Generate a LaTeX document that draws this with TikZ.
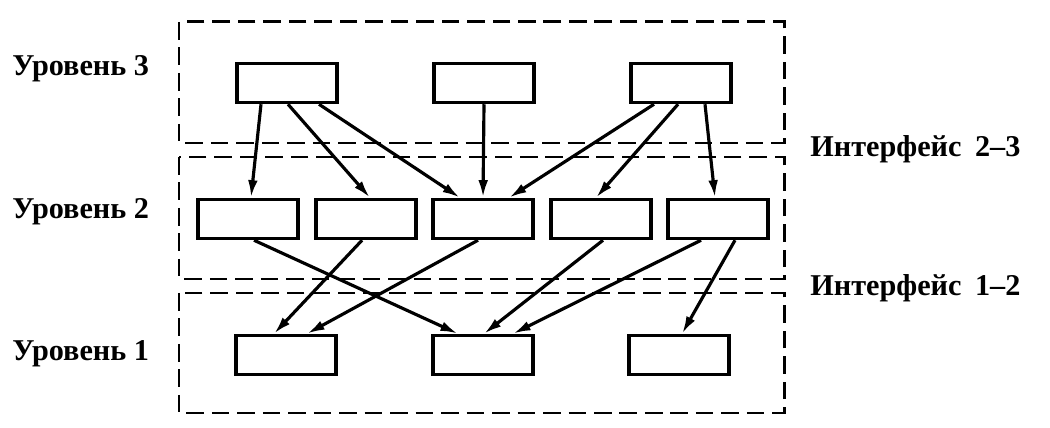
\documentclass[tikz,border=0pt]{standalone}
\usepackage{fontspec}
\setmainfont{Liberation Serif}
\usetikzlibrary{shapes,arrows.meta,calc}

\begin{document}
\begin{tikzpicture}[x=0.02cm,y=-0.02cm,
					block/.style={draw, line width=2pt, minimum width=2.0cm, minimum height=0.78cm, inner sep=0pt},
					layer/.style={draw, line width=1.7pt, dash pattern=on 10pt off 4.5pt},
					label/.style={anchor=base west, inner sep=0pt, font=\bfseries\fontsize{17.2}{20}\selectfont},
					link/.style={line width=1.8pt,-{Latex[length=10pt,width=5.5pt]}}]
    \useasboundingbox (0,0) rectangle (1050,428);
    % Layers
    \draw[layer] (179,22) rectangle (784,143);
    \draw[layer] (179,157) rectangle (784,279);
    \draw[layer] (179,293) rectangle (784,413);
    % Place nodes
    \node [label] (L3) at (12,76) {Уровень 3};
    \node [label] (L2) at (12,219) {Уровень 2};
    \node [label] (L1) at (12,360) {Уровень 1};
    \node [label] (I23) at (810,157) {Интерфейс\hspace{0.45em}2--3};
    \node [label] (I12) at (810,296) {Интерфейс\hspace{0.45em}1--2};

    \node [block] (t1) at (287,83) {};
    \node [block] (t2) at (484,83) {};
    \node [block] (t3) at (681,83) {};

    \node [block] (m1) at (248,219) {};
    \node [block] (m2) at (366,219) {};
    \node [block] (m3) at (483,219) {};
    \node [block] (m4) at (601,219) {};
    \node [block] (m5) at (718,219) {};

    \node [block] (b1) at (286,355) {};
    \node [block] (b2) at (483,355) {};
    \node [block] (b3) at (679,355) {};
    % Draw edges
    \draw[link] ($(t1.south)+(-26,0)$) -- ($(m1.north)+(3,0)$);
    \draw[link] ($(t1.south)+(1,0)$) -- ($(m2.north)+(4,0)$);
    \draw[link] ($(t1.south)+(32,0)$) -- ($(m3.north)+(-23,0)$);
    \draw[link] (t2.south) -- (m3.north);
    \draw[link] ($(t3.south)+(-27,0)$) -- ($(m3.north)+(26,0)$);
    \draw[link] ($(t3.south)+(-3,0)$) -- ($(m4.north)+(-5,0)$);
    \draw[link] ($(t3.south)+(24,0)$) -- ($(m5.north)+(-3,0)$);

    \draw[link] ($(m1.south)+(6,0)$) -- ($(b2.north)+(-25,0)$);
    \draw[link] ($(m2.south)+(-4,0)$) -- ($(b1.north)+(-12,0)$);
    \draw[link] ($(m3.south)+(-5,0)$) -- ($(b1.north)+(21,0)$);
    \draw[link] ($(m4.south)+(2,0)$) -- ($(b2.north)+(1,0)$);
    \draw[link] ($(m5.south)+(-17,0)$) -- ($(b2.north)+(30,0)$);
    \draw[link] ($(m5.south)+(17,0)$) -- ($(b3.north)+(3,0)$);
\end{tikzpicture}
\end{document}
